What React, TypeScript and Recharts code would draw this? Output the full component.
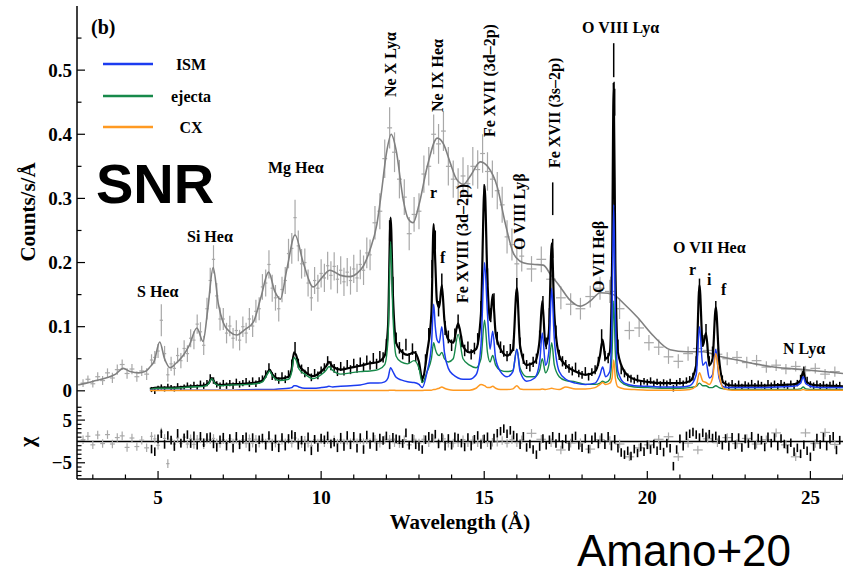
import {
  ComposedChart,
  Line,
  Scatter,
  ErrorBar,
  XAxis,
  YAxis,
  ReferenceLine,
} from 'recharts'

// low-resolution (gray) spectrum: [wavelength Å, counts/s/Å, error, chi]
const ccdSpectrum = [
  [2.7, 0.012, 0.006, 0.4], [2.85, 0.018, 0.006, 1.2], [3.0, 0.011, 0.006, -0.8],
  [3.15, 0.022, 0.007, 1.5], [3.3, 0.016, 0.007, -0.5], [3.45, 0.028, 0.007, 1.6],
  [3.6, 0.02, 0.008, -0.6], [3.75, 0.033, 0.008, 0.9], [3.9, 0.041, 0.008, 1.3],
  [4.05, 0.027, 0.008, -1.4], [4.2, 0.034, 0.008, 0.8], [4.35, 0.022, 0.008, -1.2],
  [4.5, 0.031, 0.008, 0.3], [4.65, 0.026, 0.009, -1.5], [4.8, 0.048, 0.009, 1.2],
  [4.9, 0.052, 0.01, 0.6], [5.0, 0.062, 0.011, -0.9], [5.1, 0.11, 0.025, 2.2],
  [5.2, 0.058, 0.012, 0.7], [5.3, 0.025, 0.011, -5.2], [5.4, 0.042, 0.011, 0.5],
  [5.5, 0.035, 0.011, -0.6], [5.6, 0.055, 0.012, 0.8], [5.7, 0.047, 0.012, -0.5],
  [5.8, 0.066, 0.013, 1.0], [5.9, 0.058, 0.013, -0.6], [6.0, 0.082, 0.014, 0.6],
  [6.1, 0.079, 0.014, -0.7], [6.2, 0.104, 0.015, 0.5], [6.3, 0.092, 0.015, 0.6],
  [6.4, 0.071, 0.015, -0.8], [6.5, 0.128, 0.017, 0.5], [6.6, 0.172, 0.02, 0.4],
  [6.7, 0.205, 0.022, 0.7], [6.8, 0.148, 0.02, -0.4], [6.9, 0.112, 0.018, -0.5],
  [7.0, 0.112, 0.017, 0.4], [7.1, 0.09, 0.016, -0.5], [7.2, 0.101, 0.016, 0.6],
  [7.3, 0.082, 0.016, -0.4], [7.4, 0.094, 0.016, 0.5], [7.5, 0.079, 0.016, -0.6],
  [7.6, 0.1, 0.016, 0.4], [7.7, 0.09, 0.016, -0.5], [7.8, 0.112, 0.017, 0.6],
  [7.9, 0.101, 0.017, -0.4], [8.0, 0.124, 0.018, 0.5], [8.1, 0.128, 0.018, -0.4],
  [8.2, 0.162, 0.02, 0.5], [8.3, 0.168, 0.021, -0.4], [8.4, 0.197, 0.022, 0.6],
  [8.5, 0.16, 0.021, -0.4], [8.6, 0.145, 0.02, -0.4], [8.7, 0.128, 0.02, -0.7],
  [8.8, 0.158, 0.02, 0.3], [8.9, 0.172, 0.021, -0.3], [9.0, 0.214, 0.023, 0.4],
  [9.1, 0.222, 0.024, -0.4], [9.2, 0.27, 0.028, 0.8], [9.3, 0.226, 0.024, -0.3],
  [9.4, 0.198, 0.023, -0.5], [9.5, 0.2, 0.022, 0.3], [9.6, 0.168, 0.021, -0.4],
  [9.7, 0.145, 0.02, -1.0], [9.8, 0.172, 0.021, 0.4], [9.9, 0.16, 0.021, -0.4],
  [10.0, 0.183, 0.022, 0.4], [10.1, 0.176, 0.022, -0.3], [10.2, 0.195, 0.022, 0.4],
  [10.3, 0.18, 0.022, -0.4], [10.4, 0.194, 0.022, 0.4], [10.5, 0.174, 0.022, -0.4],
  [10.6, 0.188, 0.022, 0.4], [10.7, 0.17, 0.022, -0.4], [10.8, 0.185, 0.022, 0.3],
  [10.9, 0.172, 0.022, -0.3], [11.0, 0.19, 0.022, 0.5], [11.1, 0.176, 0.022, -0.3],
  [11.2, 0.197, 0.023, 0.4], [11.3, 0.188, 0.023, -0.3], [11.4, 0.215, 0.024, 0.4],
  [11.5, 0.212, 0.024, -0.3], [11.65, 0.262, 0.026, 0.5], [11.8, 0.28, 0.028, -0.4],
  [11.95, 0.362, 0.03, 0.4], [12.1, 0.41, 0.032, 0.5], [12.25, 0.372, 0.031, -0.3],
  [12.4, 0.33, 0.03, -0.5], [12.55, 0.302, 0.028, 0.4], [12.7, 0.245, 0.026, -0.8],
  [12.85, 0.275, 0.027, 0.5], [13.0, 0.28, 0.028, -0.4], [13.15, 0.338, 0.029, 0.5],
  [13.3, 0.35, 0.03, -0.3], [13.45, 0.4, 0.031, 0.6], [13.6, 0.385, 0.031, -0.3],
  [13.75, 0.405, 0.031, 0.6], [13.9, 0.35, 0.03, -0.4], [14.05, 0.33, 0.029, -0.4],
  [14.2, 0.318, 0.029, -0.3], [14.35, 0.335, 0.029, 0.4], [14.5, 0.323, 0.029, -0.3],
  [14.65, 0.35, 0.03, 0.3], [14.8, 0.345, 0.03, -0.3], [14.95, 0.37, 0.03, 0.5],
  [15.1, 0.342, 0.03, -0.3], [15.25, 0.33, 0.029, -0.2], [15.4, 0.312, 0.029, -0.2],
  [15.55, 0.29, 0.028, 0.2], [15.7, 0.24, 0.026, -0.4], [15.85, 0.228, 0.025, 0.4],
  [16.0, 0.198, 0.024, -0.3], [16.15, 0.21, 0.024, 0.4], [16.45, 0.19, 0.02, 1.9],
  [16.75, 0.205, 0.02, 0.5], [17.05, 0.174, 0.019, -0.3], [17.35, 0.145, 0.018, -2.0],
  [17.65, 0.135, 0.017, -0.4], [17.95, 0.128, 0.017, -0.3], [18.25, 0.147, 0.017, -1.8],
  [18.55, 0.16, 0.018, 0.4], [18.85, 0.155, 0.018, 0.2], [19.15, 0.128, 0.016, -0.6],
  [19.45, 0.094, 0.014, -3.6], [19.75, 0.098, 0.014, -1.5], [20.05, 0.075, 0.012, -0.8],
  [20.35, 0.068, 0.012, 0.5], [20.65, 0.053, 0.011, 1.1], [20.95, 0.046, 0.011, -3.6],
  [21.25, 0.058, 0.011, -0.4], [21.55, 0.066, 0.011, -2.0], [21.85, 0.063, 0.011, 0.6],
  [22.15, 0.057, 0.01, -0.3], [22.45, 0.05, 0.01, 0.9], [22.75, 0.052, 0.01, -0.5],
  [23.05, 0.044, 0.009, 0.7], [23.35, 0.047, 0.009, -0.6], [23.65, 0.037, 0.009, 0.4],
  [23.95, 0.04, 0.009, 2.0], [24.25, 0.034, 0.008, -0.8], [24.55, 0.038, 0.008, -3.6],
  [24.85, 0.031, 0.008, 2.0], [25.15, 0.035, 0.008, -0.5], [25.45, 0.026, 0.008, 2.1],
  [25.75, 0.03, 0.008, -0.7],
]

// gray model curve: [wavelength, counts]
const ccdModel = [
  [2.55, 0.009], [2.8, 0.012], [3.1, 0.016], [3.4, 0.02], [3.7, 0.026], [3.93, 0.035],
  [4.15, 0.03], [4.4, 0.028], [4.6, 0.03], [4.75, 0.037], [4.88, 0.046], [5.05, 0.076],
  [5.2, 0.05], [5.37, 0.036], [5.55, 0.043], [5.77, 0.055], [5.95, 0.07], [6.19, 0.098],
  [6.38, 0.077], [6.52, 0.125], [6.69, 0.192], [6.85, 0.135], [7.0, 0.106], [7.2, 0.092],
  [7.42, 0.087], [7.65, 0.095], [7.93, 0.108], [8.15, 0.145], [8.39, 0.185], [8.58, 0.155],
  [8.75, 0.143], [8.95, 0.19], [9.2, 0.243], [9.45, 0.2], [9.76, 0.162], [10.0, 0.175],
  [10.27, 0.188], [10.6, 0.18], [10.89, 0.178], [11.1, 0.183], [11.3, 0.195], [11.5, 0.22],
  [11.71, 0.26], [11.85, 0.31], [12.0, 0.37], [12.15, 0.4], [12.3, 0.375], [12.52, 0.297],
  [12.67, 0.268], [12.82, 0.262], [13.0, 0.29], [13.25, 0.349], [13.56, 0.394], [13.75, 0.385],
  [13.96, 0.355], [14.15, 0.33], [14.36, 0.322], [14.6, 0.337], [14.88, 0.357], [15.1, 0.35],
  [15.4, 0.318], [15.65, 0.26], [15.89, 0.215], [16.1, 0.202], [16.32, 0.198], [16.55, 0.197],
  [16.81, 0.196], [17.05, 0.18], [17.33, 0.162], [17.6, 0.143], [17.94, 0.132], [18.25, 0.14],
  [18.56, 0.153], [18.8, 0.152], [18.96, 0.15], [19.3, 0.135], [19.69, 0.115], [20.2, 0.085],
  [20.7, 0.064], [21.2, 0.061], [21.72, 0.061], [22.2, 0.054], [22.76, 0.048], [23.3, 0.042],
  [23.77, 0.038], [24.3, 0.035], [24.79, 0.033], [25.4, 0.03], [26.0, 0.027],
]

// high-resolution (black) spectrum: [wavelength, counts, error, chi]
const rgsSpectrum = [
  [4.8, 0.002, 0.004, -1.8], [4.9, -0.001, 0.004, -2.4], [5.0, 0.004, 0.004, 0.6],
  [5.1, 0.006, 0.004, 1.8], [5.2, 0.003, 0.004, -0.7], [5.3, 0.007, 0.004, 1.4],
  [5.4, 0.005, 0.004, 0.3], [5.5, 0.003, 0.004, -1.2], [5.6, 0.008, 0.004, 1.9],
  [5.7, 0.004, 0.004, -0.4], [5.8, 0.006, 0.004, 0.8], [5.9, 0.009, 0.004, 1.6],
  [6.0, 0.006, 0.004, -0.5], [6.1, 0.01, 0.004, 1.3], [6.2, 0.006, 0.004, -0.9],
  [6.3, 0.011, 0.005, 1.2], [6.4, 0.008, 0.005, -0.3], [6.5, 0.012, 0.005, 0.9],
  [6.6, 0.021, 0.005, 1.1], [6.7, 0.016, 0.005, -0.6], [6.8, 0.01, 0.005, -1.4],
  [6.9, 0.008, 0.005, 0.4], [7.0, 0.012, 0.005, 1.0], [7.1, 0.008, 0.005, -1.1],
  [7.2, 0.012, 0.005, 0.7], [7.3, 0.008, 0.005, -1.6], [7.4, 0.014, 0.005, 1.2],
  [7.5, 0.01, 0.005, -0.8], [7.6, 0.012, 0.005, 0.5], [7.7, 0.015, 0.005, 1.1],
  [7.8, 0.011, 0.005, -1.3], [7.9, 0.016, 0.005, 0.9], [8.0, 0.011, 0.005, -1.6],
  [8.1, 0.016, 0.005, 0.4], [8.2, 0.019, 0.005, 0.8], [8.3, 0.026, 0.006, -0.9],
  [8.4, 0.037, 0.006, 1.4], [8.5, 0.023, 0.006, -1.2], [8.6, 0.022, 0.006, 0.6],
  [8.7, 0.016, 0.005, -1.5], [8.8, 0.023, 0.006, 0.9], [8.9, 0.018, 0.006, -1.1],
  [9.0, 0.026, 0.006, 0.7], [9.1, 0.042, 0.007, 1.6], [9.2, 0.068, 0.008, 1.2],
  [9.3, 0.043, 0.007, -0.9], [9.4, 0.034, 0.007, 0.3], [9.5, 0.027, 0.006, -1.3],
  [9.6, 0.031, 0.006, 1.1], [9.7, 0.021, 0.006, -2.2], [9.8, 0.028, 0.006, 0.5],
  [9.9, 0.024, 0.006, -1.4], [10.0, 0.032, 0.006, 0.8], [10.1, 0.036, 0.007, 0.4],
  [10.2, 0.047, 0.007, 1.3], [10.3, 0.039, 0.007, -0.6], [10.4, 0.035, 0.007, -0.2],
  [10.5, 0.03, 0.007, -1.5], [10.6, 0.038, 0.007, 1.0], [10.7, 0.031, 0.007, -1.2],
  [10.8, 0.041, 0.007, 1.4], [10.9, 0.033, 0.007, -0.8], [11.0, 0.043, 0.007, 1.2],
  [11.1, 0.035, 0.007, -1.6], [11.2, 0.045, 0.007, 0.9], [11.3, 0.037, 0.007, -1.9],
  [11.4, 0.048, 0.007, 1.5], [11.5, 0.04, 0.007, -0.7], [11.6, 0.051, 0.008, 1.1],
  [11.7, 0.042, 0.008, -1.2], [11.8, 0.054, 0.008, 0.8], [11.9, 0.052, 0.008, 0.2],
  [12.0, 0.072, 0.009, 1.3], [12.1, 0.25, 0.016, -0.8], [12.2, 0.165, 0.013, 1.0],
  [12.3, 0.082, 0.009, 0.6], [12.4, 0.067, 0.009, 0.4], [12.5, 0.057, 0.008, -0.5],
  [12.6, 0.072, 0.009, 2.0], [12.7, 0.051, 0.008, -0.9], [12.8, 0.065, 0.009, 0.7],
  [12.9, 0.054, 0.008, -0.8], [13.0, 0.04, 0.007, -1.2], [13.1, 0.018, 0.006, -1.9],
  [13.2, 0.049, 0.008, 0.4], [13.3, 0.088, 0.01, 1.2], [13.4, 0.19, 0.014, 0.8],
  [13.5, 0.235, 0.015, 1.7], [13.6, 0.128, 0.012, -0.6], [13.7, 0.17, 0.013, 0.9],
  [13.8, 0.098, 0.011, -1.1], [13.9, 0.084, 0.01, 0.7], [14.0, 0.071, 0.009, -0.9],
  [14.1, 0.087, 0.01, 1.1], [14.2, 0.108, 0.011, 0.8], [14.3, 0.077, 0.009, -0.4],
  [14.4, 0.063, 0.009, -1.3], [14.5, 0.068, 0.009, 0.9], [14.6, 0.057, 0.008, -1.1],
  [14.7, 0.066, 0.009, 0.5], [14.8, 0.081, 0.009, 1.4], [14.9, 0.128, 0.012, -0.7],
  [15.0, 0.305, 0.017, 0.6], [15.1, 0.178, 0.013, 1.1], [15.2, 0.118, 0.011, -0.9],
  [15.3, 0.14, 0.012, 0.8], [15.4, 0.082, 0.01, 1.9], [15.5, 0.068, 0.009, 2.4],
  [15.6, 0.062, 0.009, 3.0], [15.7, 0.054, 0.008, 1.8], [15.8, 0.064, 0.009, 2.6],
  [15.9, 0.071, 0.009, 1.5], [16.0, 0.163, 0.013, 0.9], [16.1, 0.074, 0.009, -0.8],
  [16.2, 0.05, 0.008, 1.2], [16.3, 0.041, 0.007, -1.4], [16.4, 0.037, 0.007, -0.6],
  [16.5, 0.045, 0.008, -1.9], [16.6, 0.05, 0.008, -3.1], [16.7, 0.084, 0.01, -1.2],
  [16.8, 0.136, 0.012, 0.7], [16.9, 0.074, 0.009, -0.9], [17.0, 0.118, 0.011, 0.4],
  [17.1, 0.222, 0.015, 1.2], [17.2, 0.092, 0.01, -0.5], [17.3, 0.056, 0.008, 1.0],
  [17.4, 0.046, 0.008, -0.7], [17.5, 0.041, 0.007, 0.6], [17.6, 0.035, 0.007, -1.2],
  [17.7, 0.031, 0.007, 0.8], [17.8, 0.037, 0.007, 1.3], [17.9, 0.027, 0.006, -0.9],
  [18.0, 0.025, 0.006, -1.5], [18.1, 0.031, 0.006, 0.7], [18.2, 0.022, 0.006, -1.8],
  [18.3, 0.029, 0.006, 0.4], [18.4, 0.033, 0.007, 1.1], [18.5, 0.046, 0.007, -0.6],
  [18.6, 0.086, 0.01, 0.9], [18.7, 0.054, 0.008, -0.8], [18.8, 0.051, 0.008, 1.2],
  [18.9, 0.165, 0.013, -1.1], [19.0, 0.45, 0.021, 0.5], [19.1, 0.071, 0.009, -1.6],
  [19.2, 0.033, 0.007, -2.6], [19.3, 0.027, 0.006, -3.1], [19.4, 0.021, 0.006, -2.2],
  [19.5, 0.019, 0.006, -3.4], [19.6, 0.016, 0.005, -1.8], [19.7, 0.019, 0.006, -2.7],
  [19.8, 0.012, 0.005, -1.3], [19.9, 0.015, 0.005, -2.4], [20.0, 0.013, 0.005, -0.8],
  [20.1, 0.016, 0.005, -1.9], [20.2, 0.011, 0.005, -0.6], [20.3, 0.014, 0.005, -2.2],
  [20.4, 0.01, 0.005, -1.0], [20.5, 0.013, 0.005, -2.5], [20.6, 0.011, 0.005, -0.4],
  [20.7, 0.014, 0.005, -1.6], [20.8, 0.004, 0.005, -5.8], [20.9, 0.012, 0.005, -1.9],
  [21.0, 0.015, 0.005, 0.6], [21.1, 0.011, 0.005, -1.1], [21.2, 0.016, 0.005, 1.3],
  [21.3, 0.018, 0.005, 1.8], [21.4, 0.022, 0.006, 2.2], [21.5, 0.047, 0.007, 1.6],
  [21.6, 0.162, 0.013, 0.9], [21.7, 0.078, 0.009, 2.0], [21.8, 0.094, 0.01, 1.1],
  [21.9, 0.046, 0.008, 1.7], [22.0, 0.061, 0.008, 0.8], [22.1, 0.128, 0.012, 1.3],
  [22.2, 0.047, 0.007, 0.4], [22.3, 0.018, 0.006, -0.9], [22.4, 0.011, 0.005, 0.7],
  [22.5, 0.008, 0.005, -1.2], [22.6, 0.012, 0.005, 1.0], [22.7, 0.007, 0.005, -0.8],
  [22.8, 0.011, 0.005, 0.9], [22.9, 0.006, 0.005, -1.4], [23.0, 0.01, 0.005, 0.6],
  [23.1, 0.008, 0.005, -0.5], [23.2, 0.012, 0.005, 1.2], [23.3, 0.007, 0.005, -0.9],
  [23.4, 0.011, 0.005, 0.8], [23.5, 0.009, 0.005, 0.3], [23.6, 0.006, 0.005, -1.3],
  [23.7, 0.012, 0.005, 1.1], [23.8, 0.008, 0.005, -0.4], [23.9, 0.011, 0.005, 0.9],
  [24.0, 0.007, 0.005, -1.1], [24.1, 0.012, 0.005, 0.7], [24.2, 0.009, 0.005, -0.6],
  [24.3, 0.006, 0.005, -1.8], [24.4, 0.011, 0.005, -0.3], [24.5, 0.007, 0.005, -2.4],
  [24.6, 0.012, 0.005, -1.5], [24.7, 0.019, 0.006, -2.9], [24.8, 0.031, 0.007, -0.8],
  [24.9, 0.016, 0.006, -2.2], [25.0, 0.01, 0.005, -3.6], [25.1, 0.008, 0.005, -1.2],
  [25.2, 0.011, 0.005, 0.8], [25.3, 0.007, 0.005, -0.7], [25.4, 0.01, 0.005, 1.0],
  [25.5, 0.006, 0.005, -1.1], [25.6, 0.009, 0.005, 0.5], [25.7, 0.011, 0.005, 1.2],
  [25.8, 0.006, 0.005, -2.0], [25.9, 0.009, 0.005, 0.3],
]

// high-resolution model: [wavelength, total, ISM, ejecta, CX]
const rgsModel = [
  [4.75, 0.003, 0.001, 0.002, 0.0005], [5.0, 0.005, 0.001, 0.004, 0.0005],
  [5.5, 0.005, 0.001, 0.004, 0.0005], [6.0, 0.007, 0.001, 0.006, 0.0005],
  [6.4, 0.008, 0.001, 0.007, 0.0005], [6.55, 0.012, 0.001, 0.011, 0.0005],
  [6.65, 0.02, 0.001, 0.019, 0.0005], [6.75, 0.012, 0.001, 0.011, 0.0005],
  [6.9, 0.009, 0.001, 0.008, 0.0005], [7.2, 0.01, 0.001, 0.009, 0.0005],
  [7.6, 0.011, 0.0015, 0.0095, 0.0005], [8.0, 0.013, 0.002, 0.011, 0.0005],
  [8.2, 0.016, 0.002, 0.014, 0.0005], [8.35, 0.028, 0.002, 0.026, 0.0005],
  [8.42, 0.033, 0.002, 0.031, 0.0005], [8.5, 0.026, 0.002, 0.024, 0.0005],
  [8.7, 0.019, 0.003, 0.016, 0.0005], [9.0, 0.022, 0.004, 0.018, 0.0005],
  [9.1, 0.035, 0.005, 0.03, 0.0005], [9.17, 0.06, 0.008, 0.052, 0.0005],
  [9.23, 0.056, 0.008, 0.048, 0.0005], [9.32, 0.04, 0.006, 0.034, 0.0005],
  [9.5, 0.03, 0.004, 0.026, 0.0005], [9.75, 0.023, 0.004, 0.019, 0.0005],
  [10.0, 0.03, 0.005, 0.025, 0.0005], [10.15, 0.038, 0.006, 0.032, 0.0005],
  [10.24, 0.045, 0.007, 0.038, 0.0005], [10.35, 0.038, 0.006, 0.032, 0.0005],
  [10.6, 0.033, 0.007, 0.026, 0.0005], [10.9, 0.036, 0.008, 0.028, 0.0005],
  [11.2, 0.039, 0.009, 0.03, 0.0005], [11.5, 0.043, 0.012, 0.031, 0.0005],
  [11.75, 0.045, 0.012, 0.033, 0.0005], [11.95, 0.055, 0.014, 0.041, 0.0005],
  [12.05, 0.1, 0.02, 0.08, 0.0005], [12.13, 0.27, 0.036, 0.233, 0.001],
  [12.2, 0.15, 0.03, 0.12, 0.001], [12.3, 0.075, 0.021, 0.054, 0.0005],
  [12.45, 0.062, 0.017, 0.045, 0.0005], [12.65, 0.056, 0.014, 0.042, 0.0005],
  [12.85, 0.06, 0.013, 0.047, 0.0005], [13.0, 0.045, 0.01, 0.035, 0.0005],
  [13.1, 0.018, 0.005, 0.013, 0.0005], [13.25, 0.06, 0.03, 0.03, 0.001],
  [13.38, 0.12, 0.07, 0.05, 0.001], [13.45, 0.26, 0.135, 0.075, 0.002],
  [13.5, 0.2, 0.1, 0.065, 0.002], [13.55, 0.14, 0.08, 0.058, 0.003],
  [13.62, 0.13, 0.075, 0.055, 0.004], [13.7, 0.165, 0.1, 0.06, 0.006],
  [13.78, 0.11, 0.06, 0.05, 0.004], [13.9, 0.08, 0.035, 0.045, 0.002],
  [14.05, 0.075, 0.025, 0.05, 0.001], [14.2, 0.105, 0.02, 0.088, 0.001],
  [14.35, 0.07, 0.018, 0.05, 0.001], [14.55, 0.06, 0.018, 0.04, 0.001],
  [14.75, 0.065, 0.025, 0.036, 0.004], [14.9, 0.12, 0.07, 0.05, 0.01],
  [15.01, 0.32, 0.2, 0.11, 0.008], [15.1, 0.17, 0.12, 0.06, 0.005],
  [15.18, 0.11, 0.065, 0.045, 0.005], [15.26, 0.15, 0.093, 0.055, 0.007],
  [15.35, 0.09, 0.05, 0.04, 0.004], [15.5, 0.065, 0.03, 0.032, 0.002],
  [15.7, 0.055, 0.022, 0.03, 0.002], [15.88, 0.065, 0.03, 0.032, 0.003],
  [16.0, 0.16, 0.065, 0.065, 0.008], [16.1, 0.07, 0.03, 0.035, 0.003],
  [16.3, 0.04, 0.015, 0.022, 0.002], [16.55, 0.045, 0.02, 0.022, 0.002],
  [16.7, 0.08, 0.045, 0.032, 0.002], [16.78, 0.14, 0.09, 0.05, 0.003],
  [16.88, 0.07, 0.04, 0.028, 0.002], [16.98, 0.09, 0.06, 0.04, 0.003],
  [17.07, 0.23, 0.16, 0.075, 0.004], [17.15, 0.12, 0.08, 0.04, 0.003],
  [17.3, 0.055, 0.03, 0.022, 0.002], [17.5, 0.04, 0.018, 0.016, 0.006],
  [17.8, 0.03, 0.012, 0.014, 0.003], [18.1, 0.025, 0.01, 0.01, 0.003],
  [18.4, 0.03, 0.012, 0.01, 0.005], [18.55, 0.055, 0.025, 0.012, 0.01],
  [18.63, 0.08, 0.037, 0.015, 0.013], [18.72, 0.05, 0.022, 0.013, 0.01],
  [18.85, 0.06, 0.03, 0.018, 0.012], [18.92, 0.2, 0.12, 0.06, 0.02],
  [18.97, 0.48, 0.29, 0.14, 0.048], [19.02, 0.2, 0.12, 0.06, 0.02],
  [19.1, 0.06, 0.03, 0.02, 0.006], [19.3, 0.03, 0.012, 0.01, 0.003],
  [19.6, 0.018, 0.008, 0.006, 0.002], [20.0, 0.014, 0.007, 0.005, 0.001],
  [20.5, 0.012, 0.006, 0.004, 0.001], [21.0, 0.012, 0.006, 0.004, 0.001],
  [21.3, 0.015, 0.008, 0.005, 0.002], [21.5, 0.04, 0.025, 0.007, 0.008],
  [21.6, 0.165, 0.1, 0.012, 0.028], [21.7, 0.07, 0.04, 0.008, 0.015],
  [21.8, 0.09, 0.045, 0.008, 0.013], [21.9, 0.04, 0.02, 0.005, 0.01],
  [22.0, 0.05, 0.025, 0.005, 0.02], [22.1, 0.13, 0.065, 0.008, 0.058],
  [22.2, 0.05, 0.02, 0.005, 0.025], [22.35, 0.012, 0.006, 0.003, 0.003],
  [22.6, 0.008, 0.005, 0.002, 0.001], [23.0, 0.008, 0.005, 0.002, 0.001],
  [23.5, 0.008, 0.005, 0.002, 0.001], [24.0, 0.009, 0.006, 0.002, 0.001],
  [24.5, 0.01, 0.007, 0.002, 0.001], [24.7, 0.016, 0.012, 0.003, 0.001],
  [24.78, 0.03, 0.022, 0.006, 0.002], [24.86, 0.015, 0.011, 0.003, 0.001],
  [25.1, 0.009, 0.006, 0.002, 0.001], [25.5, 0.008, 0.005, 0.002, 0.001],
  [26.0, 0.007, 0.005, 0.002, 0.001],
]

const waveTicks = [3, 4, 5, 6, 7, 8, 9, 10, 11, 12, 13, 14, 15, 16, 17, 18, 19, 20, 21, 22, 23, 24, 25, 26]
const countTicks = [0, 0.05, 0.1, 0.15, 0.2, 0.25, 0.3, 0.35, 0.4, 0.45, 0.5, 0.55]
const chiTicks = [-8, -7, -6, -5, -4, -3, -2, -1, 0, 1, 2, 3, 4, 5, 6, 7, 8]

const X_DOMAIN = [2.515, 26.0]
const COUNT_DOMAIN = [-0.019, 0.6]
const CHI_DOMAIN = [-8.8, 9]

const SERIF = '"Liberation Serif", "Times New Roman", serif'
const SANS = '"Liberation Sans", Arial, sans-serif'

const BLUE = '#1c3cf0'
const GREEN = '#17894a'
const ORANGE = '#ff9a22'
const GRAY_DATA = '#a8a8a8'
const GRAY_MODEL = '#808080'

// half of the bin width, taken from the spacing to the neighbouring bins
const halfBin = (arr: number[][], i: number) => {
  const w = arr[i][0]
  const left = i > 0 ? w - arr[i - 1][0] : arr[i + 1][0] - w
  const right = i < arr.length - 1 ? arr[i + 1][0] - w : left
  return Math.min(left, right) / 2
}

const ccdPoints = ccdSpectrum.map((p, i, arr) => ({
  w: p[0], c: p[1], e: p[2], chi: p[3], xe: halfBin(arr, i), one: 1,
}))
const rgsPoints = rgsSpectrum.map((p) => ({ w: p[0], c: p[1], e: p[2], chi: p[3], one: 1 }))
const ccdModelRows = ccdModel.map((p) => ({ w: p[0], c: p[1] }))
const rgsModelRows = rgsModel.map((p) => ({ w: p[0], total: p[1], ism: p[2], ejecta: p[3], cx: p[4] }))

const tickText = { fontFamily: SERIF, fontWeight: 700, fontSize: 19, fill: '#000' }

function axisTick(side: string, step: number, fmt?: (v: number) => string) {
  return function Tick(props: any) {
    const { x, y, payload } = props
    const v = Number(payload.value)
    const major = Math.abs(v / step - Math.round(v / step)) < 1e-6
    const len = major ? 8 : 4.5
    const x2 = side === 'left' ? x + len : side === 'right' ? x - len : x
    const y2 = side === 'top' ? y + len : side === 'bottom' ? y - len : y
    const label = major && fmt ? fmt(v) : ''
    return (
      <g>
        <line x1={x} y1={y} x2={x2} y2={y2} stroke="#000" strokeWidth={1.2} />
        {label !== '' &&
          (side === 'bottom' ? (
            <text x={x} y={y + 25} textAnchor="middle" {...tickText}>{label}</text>
          ) : (
            <text x={x - 5} y={y + 6.5} textAnchor="end" {...tickText}>{label}</text>
          ))}
      </g>
    )
  }
}

const noDot = () => <g />
const axisLine = { stroke: '#000', strokeWidth: 1.5 }

const countLabel = (v: number) => (v === 0 ? '0' : v.toFixed(1))
const chiLabel = (v: number) => (v === 0 ? '' : v < 0 ? '\u2212' + Math.abs(v) : String(v))

const flatLabels = [
  { t: 'S He\u03b1', x: 137, y: 297 },
  { t: 'Si He\u03b1', x: 187, y: 242 },
  { t: 'Mg He\u03b1', x: 268, y: 173 },
  { t: 'O VIII Ly\u03b1', x: 582, y: 33 },
  { t: 'O VII He\u03b1', x: 673, y: 253 },
  { t: 'N Ly\u03b1', x: 783, y: 354 },
  { t: 'r', x: 430, y: 198 },
  { t: 'f', x: 440, y: 263 },
  { t: 'r', x: 689, y: 275 },
  { t: 'i', x: 707, y: 285 },
  { t: 'f', x: 721, y: 295 },
]

const upLabels = [
  { t: 'Ne X Ly\u03b1', x: 396, y: 97 },
  { t: 'Ne IX He\u03b1', x: 443, y: 112 },
  { t: 'Fe XVII (3d\u20132p)', x: 495, y: 137 },
  { t: 'Fe XVIII (3d\u20132p)', x: 468, y: 303 },
  { t: 'O VIII Ly\u03b2', x: 525, y: 250 },
  { t: 'Fe XVII (3s\u20132p)', x: 560, y: 168 },
  { t: 'O VII He\u03b2', x: 604, y: 293 },
]

const legendItems = [
  { t: 'ISM', color: BLUE, y: 64 },
  { t: 'ejecta', color: GREEN, y: 96 },
  { t: 'CX', color: ORANGE, y: 127 },
]

const labelText = { fontFamily: SERIF, fontWeight: 700, fontSize: 16, fill: '#000' }

export default function App() {
  return (
    <div style={{ position: 'absolute', left: 0, top: 0, width: 843, height: 578, background: '#fff', overflow: 'hidden' }}>
      <div style={{ position: 'absolute', left: 0, top: 0 }}>
        <ComposedChart width={843} height={403} margin={{ top: 6, right: 0, bottom: 0, left: 0 }}>
          <XAxis
            dataKey="w" type="number" domain={X_DOMAIN} allowDataOverflow ticks={waveTicks} interval={0}
            height={0} tickSize={0} tickMargin={0} tickLine={false} axisLine={axisLine}
            tick={axisTick('bottom', 5)}
          />
          <XAxis
            xAxisId="top" orientation="top" type="number" domain={X_DOMAIN} allowDataOverflow ticks={waveTicks}
            interval={0} height={0} tickSize={0} tickMargin={0} tickLine={false} axisLine={axisLine}
            tick={axisTick('top', 5)}
          />
          <YAxis
            type="number" domain={COUNT_DOMAIN} allowDataOverflow ticks={countTicks} interval={0} width={77}
            tickSize={0} tickMargin={0} tickLine={false} axisLine={axisLine} tick={axisTick('left', 0.1, countLabel)}
          />
          <YAxis
            yAxisId="right" orientation="right" type="number" domain={COUNT_DOMAIN} allowDataOverflow
            ticks={countTicks} interval={0} width={0} tickSize={0} tickMargin={0} tickLine={false}
            axisLine={axisLine} tick={axisTick('right', 0.1)}
          />
          <Scatter data={ccdPoints} dataKey="c" shape={noDot} isAnimationActive={false}>
            <ErrorBar dataKey="e" direction="y" width={0} stroke={GRAY_DATA} strokeWidth={1.2} />
            <ErrorBar dataKey="xe" direction="x" width={0} stroke={GRAY_DATA} strokeWidth={1.2} />
          </Scatter>
          <Line data={ccdModelRows} dataKey="c" type="monotone" stroke={GRAY_MODEL} strokeWidth={1.6} dot={false} isAnimationActive={false} />
          <Scatter data={rgsPoints} dataKey="c" shape={noDot} isAnimationActive={false}>
            <ErrorBar dataKey="e" direction="y" width={0} stroke="#000" strokeWidth={1.5} />
          </Scatter>
          <Line data={rgsModelRows} dataKey="total" type="monotone" stroke="#000" strokeWidth={2.2} dot={false} isAnimationActive={false} />
          <Line data={rgsModelRows} dataKey="ejecta" type="monotone" stroke={GREEN} strokeWidth={1.4} dot={false} isAnimationActive={false} />
          <Line data={rgsModelRows} dataKey="ism" type="monotone" stroke={BLUE} strokeWidth={1.5} dot={false} isAnimationActive={false} />
          <Line data={rgsModelRows} dataKey="cx" type="monotone" stroke={ORANGE} strokeWidth={1.5} dot={false} isAnimationActive={false} />
          <ReferenceLine segment={[{ x: 18.97, y: 0.489 }, { x: 18.97, y: 0.542 }]} stroke="#000" strokeWidth={1.5} />
          <ReferenceLine segment={[{ x: 17.1, y: 0.274 }, { x: 17.1, y: 0.325 }]} stroke="#000" strokeWidth={1.5} />
        </ComposedChart>
      </div>

      <div style={{ position: 'absolute', left: 0, top: 403 }}>
        <ComposedChart width={843} height={175} margin={{ top: 0, right: 0, bottom: 0, left: 0 }}>
          <XAxis
            dataKey="w" type="number" domain={X_DOMAIN} allowDataOverflow ticks={waveTicks} interval={0}
            height={99} tickSize={0} tickMargin={0} tickLine={false} axisLine={axisLine}
            tick={axisTick('bottom', 5, (v) => String(v))}
          />
          <XAxis
            xAxisId="top" orientation="top" type="number" domain={X_DOMAIN} allowDataOverflow ticks={waveTicks}
            interval={0} height={0} tickSize={0} tickMargin={0} tickLine={false} axisLine={axisLine}
            tick={axisTick('top', 5)}
          />
          <YAxis
            type="number" domain={CHI_DOMAIN} allowDataOverflow ticks={chiTicks} interval={0} width={77}
            tickSize={0} tickMargin={0} tickLine={false} axisLine={axisLine} tick={axisTick('left', 5, chiLabel)}
          />
          <YAxis
            yAxisId="right" orientation="right" type="number" domain={CHI_DOMAIN} allowDataOverflow
            ticks={chiTicks} interval={0} width={0} tickSize={0} tickMargin={0} tickLine={false}
            axisLine={axisLine} tick={axisTick('right', 5)}
          />
          <ReferenceLine y={0} stroke="#000" strokeWidth={1.4} />
          <Scatter data={ccdPoints} dataKey="chi" shape={noDot} isAnimationActive={false}>
            <ErrorBar dataKey="one" direction="y" width={0} stroke={GRAY_DATA} strokeWidth={1.2} />
            <ErrorBar dataKey="xe" direction="x" width={0} stroke={GRAY_DATA} strokeWidth={1.2} />
          </Scatter>
          <Scatter data={rgsPoints} dataKey="chi" shape={noDot} isAnimationActive={false}>
            <ErrorBar dataKey="one" direction="y" width={0} stroke="#000" strokeWidth={1.6} />
          </Scatter>
        </ComposedChart>
      </div>

      <svg width={843} height={578} style={{ position: 'absolute', left: 0, top: 0, pointerEvents: 'none' }}>
        <text x={91} y={34} fontFamily={SERIF} fontWeight={700} fontSize={20}>(b)</text>
        {legendItems.map((it) => (
          <g key={it.t}>
            <line x1={103} x2={153} y1={it.y} y2={it.y} stroke={it.color} strokeWidth={2.5} />
            <text x={191} y={it.y + 6} textAnchor="middle" {...labelText}>{it.t}</text>
          </g>
        ))}
        <text x={96} y={203} fontFamily={SANS} fontWeight={700} fontSize={56}>SNR</text>
        {flatLabels.map((l, i) => (
          <text key={i} x={l.x} y={l.y} {...labelText}>{l.t}</text>
        ))}
        {upLabels.map((l, i) => (
          <text key={i} transform={`translate(${l.x},${l.y}) rotate(-90)`} {...labelText}>{l.t}</text>
        ))}
        <text transform="translate(35,212) rotate(-90)" textAnchor="middle" fontFamily={SERIF} fontWeight={700} fontSize={21}>
          Counts/s/Å
        </text>
        <text transform="translate(34,442) rotate(-90)" textAnchor="middle" fontFamily={SERIF} fontWeight={700} fontSize={22}>
          χ
        </text>
        <text x={460} y={529} textAnchor="middle" fontFamily={SERIF} fontWeight={700} fontSize={21}>
          Wavelength (Å)
        </text>
        <text x={577} y={566} fontFamily={SANS} fontSize={44}>Amano+20</text>
      </svg>
    </div>
  )
}
